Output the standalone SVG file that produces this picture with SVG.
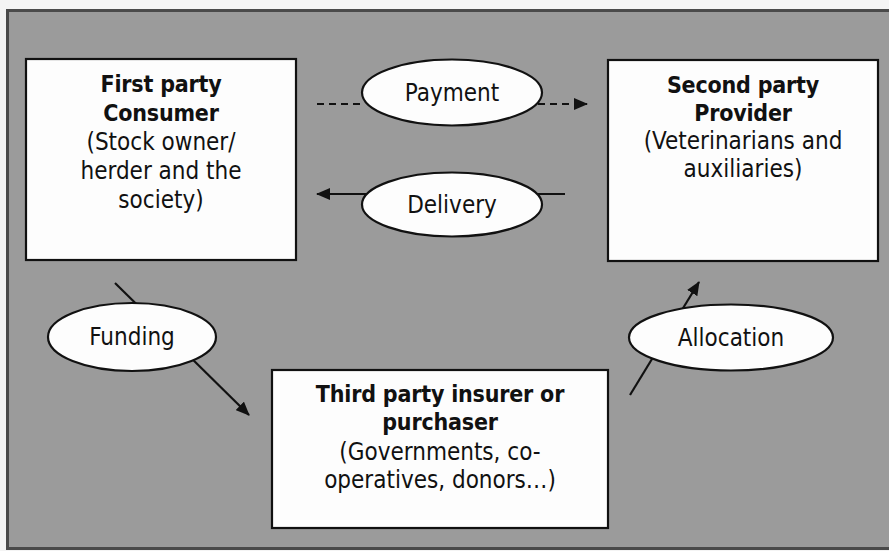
<svg xmlns="http://www.w3.org/2000/svg" width="889" height="551" viewBox="0 0 889 551">
  <style>
    .panel { fill: #9b9b9b; stroke: #4a4a4a; stroke-width: 3; }
    .box { fill: #fdfdfd; stroke: #111; stroke-width: 2.2; }
    .oval { fill: #fdfdfd; stroke: #111; stroke-width: 2.2; }
    .t { font-family: "DejaVu Sans Condensed", "DejaVu Sans", sans-serif; font-size: 24px; fill: #111; text-anchor: middle; }
    .b { font-weight: bold; font-size: 23px; letter-spacing: -0.2px; }
    .link { stroke: #111; stroke-width: 2.2; fill: none; }
    .dash { stroke-dasharray: 7 5; }
  </style>
  <defs>
    <marker id="arrow" viewBox="0 0 14 12" refX="13" refY="6" markerWidth="14" markerHeight="12" markerUnits="userSpaceOnUse" orient="auto">
      <path d="M0,0 L14,6 L0,12 z" fill="#111"/>
    </marker>
  </defs>

  <rect width="889" height="551" fill="#f4f4f4"/>
  <rect class="panel" x="7.5" y="10.5" width="884" height="538"/>

  <!-- connectors -->
  <g id="connectors">
    <line class="link dash" x1="317" y1="104" x2="364" y2="104"/>
    <line class="link dash" x1="538" y1="104" x2="587" y2="104" marker-end="url(#arrow)"/>
    <line class="link" x1="565" y1="194" x2="317" y2="194" marker-end="url(#arrow)"/>
    <line class="link" x1="115" y1="283" x2="249" y2="415" marker-end="url(#arrow)"/>
    <line class="link" x1="630" y1="395" x2="699" y2="282" marker-end="url(#arrow)"/>
  </g>

  <g id="first-party">
    <rect class="box" x="26" y="59" width="270" height="201"/>
    <text class="t b" x="161" y="92">First party</text>
    <text class="t b" x="161" y="121">Consumer</text>
    <text class="t" x="161" y="150">(Stock owner/</text>
    <text class="t" x="161" y="179">herder and the</text>
    <text class="t" x="161" y="208">society)</text>
  </g>

  <g id="second-party">
    <rect class="box" x="608" y="60" width="270" height="201"/>
    <text class="t b" x="743" y="93">Second party</text>
    <text class="t b" x="743" y="121">Provider</text>
    <text class="t" x="743" y="149">(Veterinarians and</text>
    <text class="t" x="743" y="177">auxiliaries)</text>
  </g>

  <g id="third-party">
    <rect class="box" x="272" y="370" width="336" height="158"/>
    <text class="t b" x="440" y="402">Third party insurer or</text>
    <text class="t b" x="440" y="430">purchaser</text>
    <text class="t" x="440" y="460">(Governments, co-</text>
    <text class="t" x="440" y="488">operatives, donors…)</text>
  </g>

  <g id="payment">
    <ellipse class="oval" cx="452" cy="92.5" rx="90" ry="33"/>
    <text class="t" x="452" y="101">Payment</text>
  </g>

  <g id="delivery">
    <ellipse class="oval" cx="452" cy="204.5" rx="90" ry="32"/>
    <text class="t" x="452" y="213">Delivery</text>
  </g>

  <g id="funding">
    <ellipse class="oval" cx="132" cy="337" rx="84" ry="34"/>
    <text class="t" x="132" y="345">Funding</text>
  </g>

  <g id="allocation">
    <ellipse class="oval" cx="731" cy="337.5" rx="102" ry="33"/>
    <text class="t" x="731" y="346">Allocation</text>
  </g>
</svg>
